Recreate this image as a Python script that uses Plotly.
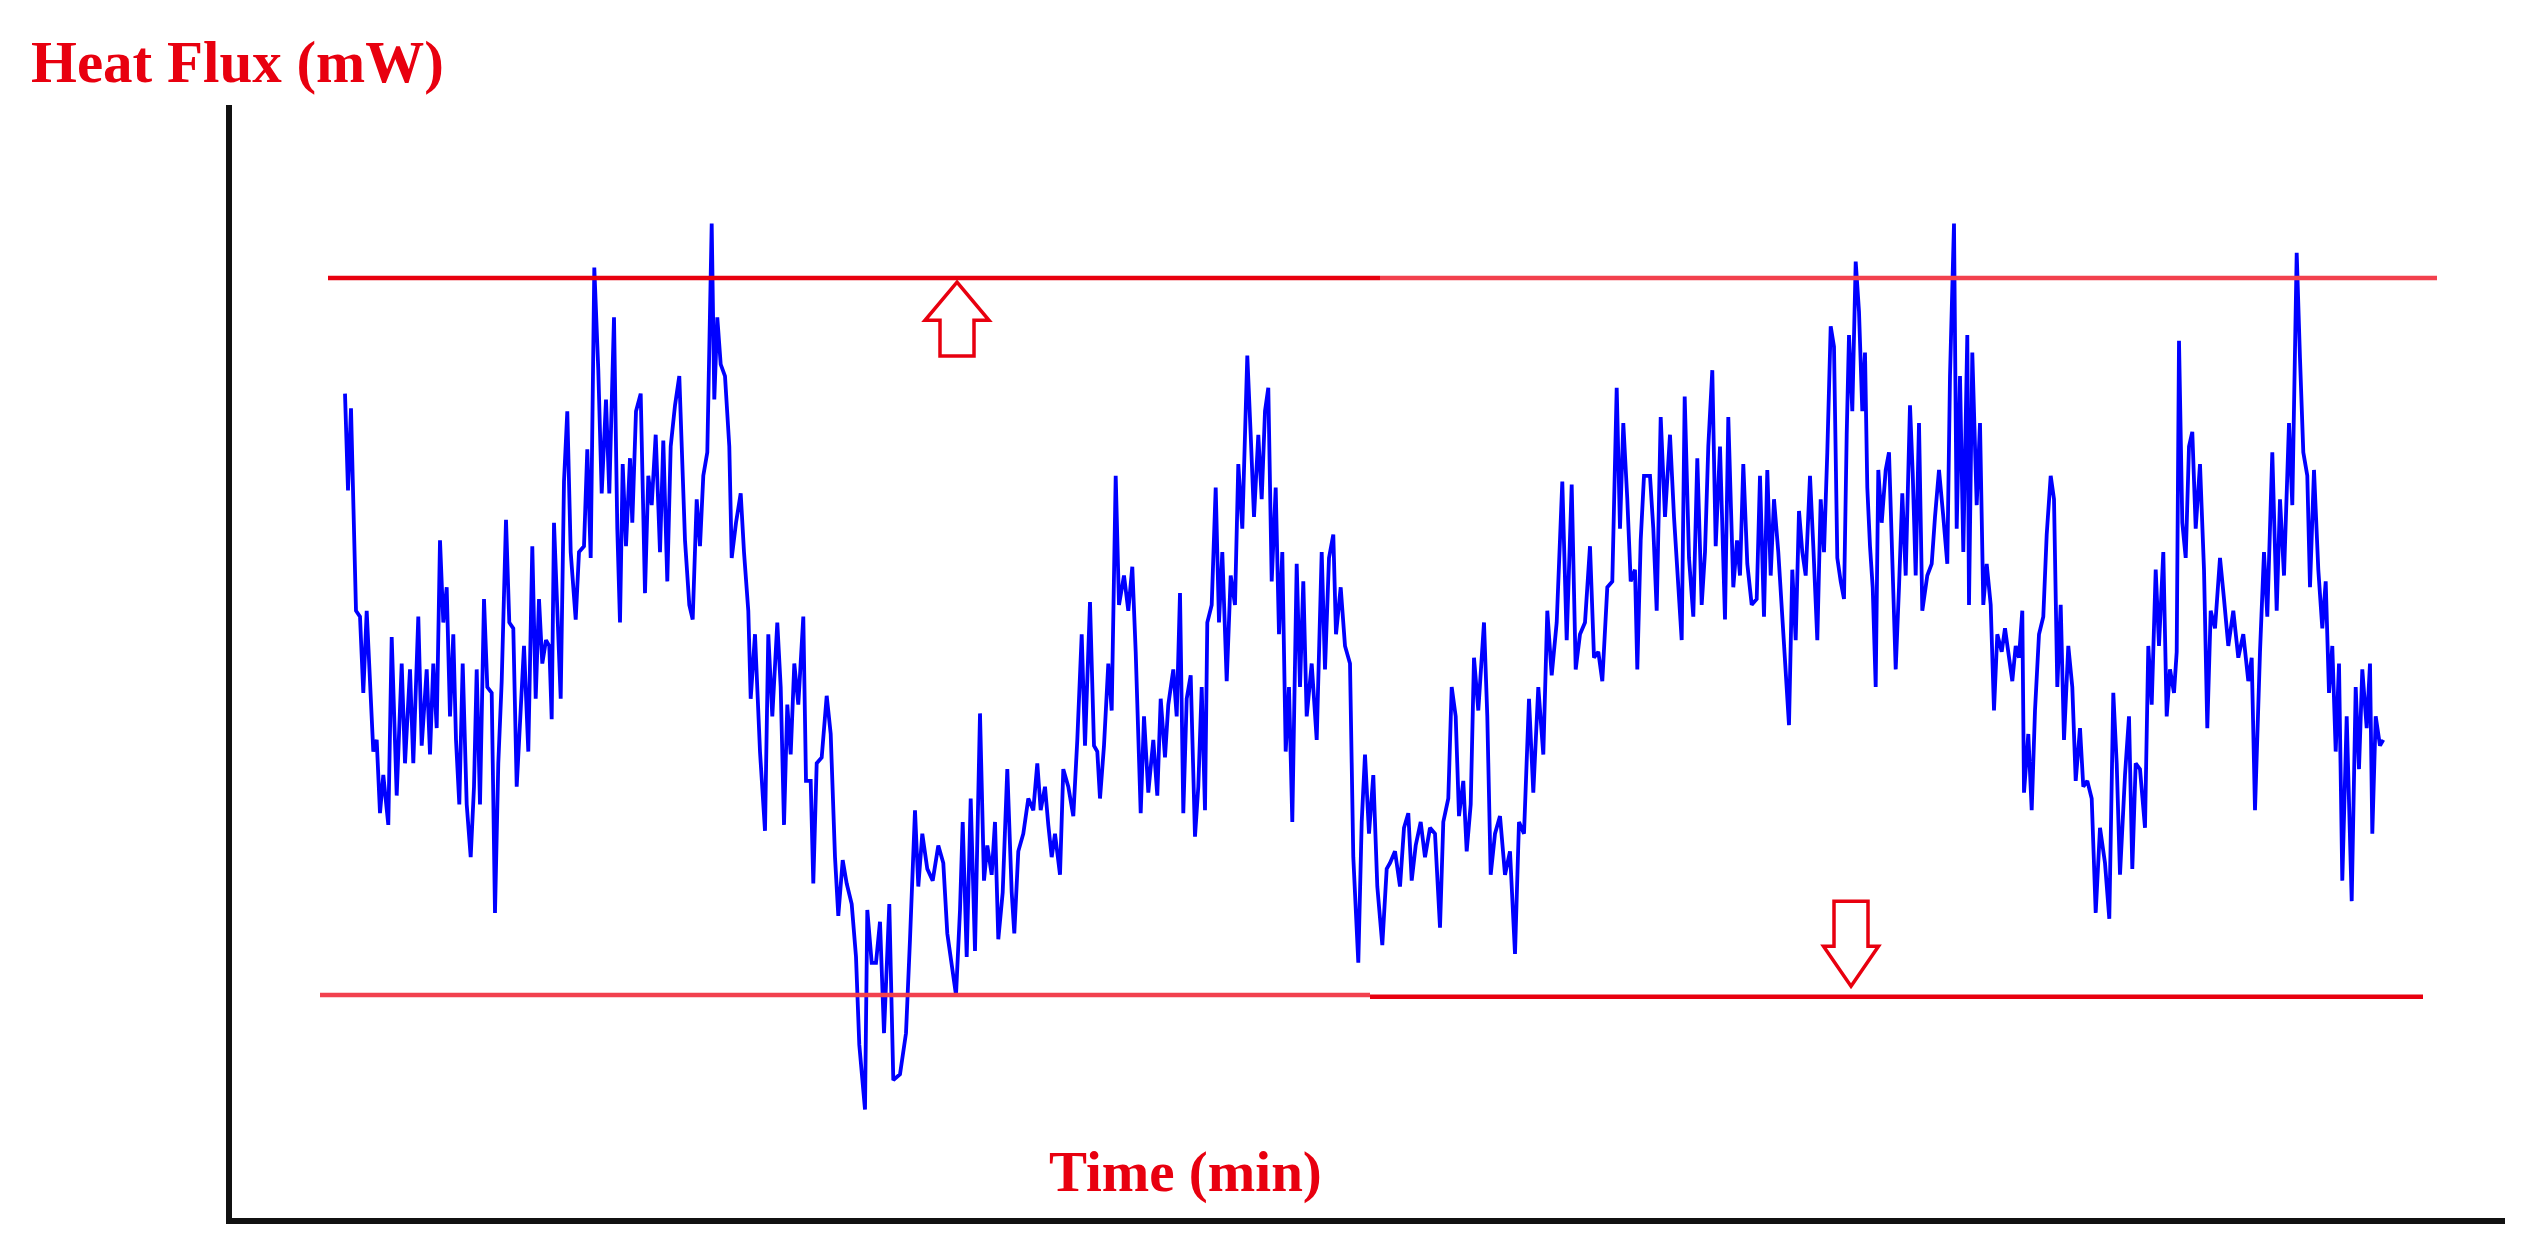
import plotly.graph_objects as go

# heat flux trace (time in min, flux in mW, arbitrary zero)
time_min = [
    11.3, 11.6, 11.9, 12.13, 12.4, 12.8, 13.13, 13.47, 13.8, 14.13, 14.47, 14.8,
    15.13, 15.63, 15.97, 16.47, 16.97, 17.3, 17.8, 18.13, 18.63, 18.97, 19.47, 19.8,
    20.13, 20.47, 20.8, 21.13, 21.47, 21.8, 22.13, 22.4, 22.73, 23.07, 23.47, 23.87,
    24.2, 24.47, 24.8, 25.2, 25.53, 25.97, 26.3, 26.63, 26.97, 27.4, 27.73, 28.13,
    28.47, 28.8, 29.2, 29.63, 30.03, 30.37, 30.7, 31.03, 31.4, 31.73, 31.97, 32.2,
    32.63, 32.87, 33.2, 33.53, 33.87, 34.37, 34.7, 35.2, 35.53, 35.87, 36.23, 36.63,
    36.97, 37.4, 37.73, 38.2, 38.53, 38.8, 39.07, 39.4, 39.8, 40.03, 40.4, 40.87,
    41.3, 41.63, 41.97, 42.37, 42.8, 43.13, 43.53, 43.87, 44.3, 44.73,
    45.3, 45.73, 46.07, 46.47, 46.8, 47.13, 47.53, 47.97, 48.23, 48.53, 48.87, 49.3,
    49.73, 49.97, 50.4, 50.87, 51.2, 51.63, 51.87, 52.3, 52.8, 53.3, 53.63, 54.03,
    54.53, 54.87, 55.2, 55.53, 55.87, 56.23, 56.63, 57.13, 57.4, 57.87, 58.13, 58.47,
    58.97, 59.47, 59.87, 60.3, 60.63, 61.07, 61.47, 61.97, 62.4, 62.73, 63.3, 63.53,
    63.97, 64.4, 64.8, 65.2, 65.73, 66.13, 66.8, 67.4, 67.8, 68.3, 68.63, 69.03,
    69.53, 70.07, 70.63, 71.13, 71.53, 71.97, 72.4, 72.8, 73.07, 73.47, 73.87, 74.3,
    74.8, 75.2, 75.53, 75.97, 76.3, 76.63, 77.07, 77.53, 77.97, 78.23, 78.63, 79.13,
    79.63,
    80.13, 80.53, 80.87, 81.3, 81.63, 81.97, 82.3, 82.8, 83.13, 83.63, 84.13, 84.53,
    84.97, 85.3, 85.8, 86.2, 86.53, 86.8, 87.2, 87.63, 87.97, 88.37, 88.7, 89.2,
    89.63, 90.03, 90.37, 90.87, 91.2, 91.63, 92.13, 92.53, 92.87, 93.3, 93.63, 94.13,
    94.47, 94.8, 95.13, 95.47, 95.87, 96.3, 96.63, 96.97, 97.3, 97.53, 97.97, 98.37,
    98.7, 99.03, 99.47, 99.87, 100.3, 100.63, 101.03, 101.53, 101.87, 102.2, 102.63, 102.97,
    103.3, 103.63, 103.97, 104.37, 104.7, 105.03, 105.37, 105.7, 106.03, 106.47, 106.8, 107.13,
    107.47, 107.97, 108.47, 108.97, 109.3, 109.7, 110.13, 110.4, 110.87, 111.3, 111.8, 112.13,
    112.63, 112.97, 113.3, 113.7, 114.13, 114.53, 115.03, 115.47,
    115.8, 116.3, 116.8, 117.2, 117.63, 117.97, 118.37, 118.87, 119.3, 119.8, 120.3, 120.8,
    121.13, 121.63, 121.97, 122.37, 122.7, 123.13, 123.47, 123.87, 124.2, 124.63, 125.2, 125.53,
    125.87, 126.3, 126.8, 127.3, 127.8, 128.3, 128.7, 129.2, 129.7, 130.13, 130.63, 131.13,
    131.53, 131.97, 132.47, 133.03, 133.47, 133.97, 134.37, 134.8, 135.3, 135.8, 136.2, 136.63,
    137.03, 137.53, 138.03, 138.47, 138.8, 139.13, 139.53, 139.87, 140.3, 140.53, 140.87, 141.2,
    141.8, 142.13, 142.47, 142.87, 143.3, 143.8, 144.2, 144.63, 144.97, 145.27, 145.7, 146.13,
    146.53, 146.97, 147.3, 147.63, 148.03, 148.37, 148.8, 149.3, 149.63, 150.13,
    150.5, 150.8, 151.13, 151.53, 151.97, 152.47, 152.8, 153.2, 153.53, 153.87, 154.2, 154.63,
    154.97, 155.3, 155.7, 156.03, 156.37, 156.7, 157.03, 157.37, 157.8, 158.13, 158.53, 158.87,
    159.2, 159.53, 159.87, 160.2, 160.53, 160.87, 161.2, 161.47, 161.7, 162.03, 162.37, 162.7,
    163.03, 163.3, 163.53, 163.8, 164.07, 164.37, 164.63, 164.97, 165.37, 165.7, 166.03, 166.37,
    166.7, 167.03, 167.37, 167.8, 168.07, 168.37, 168.7, 169.03, 169.53, 169.97, 170.3, 170.7,
    171.13, 171.53, 171.8, 172.2, 172.47, 172.8, 173.13, 173.53, 173.7, 174.03, 174.47, 174.8,
    175.13, 175.47, 175.87, 176.2, 176.53, 176.97, 177.3, 177.7, 178.03, 178.37, 178.7, 179.03,
    179.2, 179.63, 179.97, 180.3, 180.7, 181.13, 181.47, 181.87, 182.2, 182.53, 182.87, 183.2,
    183.63, 184.03, 184.37, 184.8,
    185.13, 185.53, 185.97, 186.37, 186.8, 187.3, 187.73, 188.13, 188.47, 188.8, 189.3, 189.7,
    190.03, 190.37, 190.8, 191.3, 191.63, 191.97, 192.37, 192.7, 193.13, 193.47, 193.8, 194.2,
    194.47, 194.7, 195.03, 195.37, 195.7, 196.03, 196.37, 196.8, 197.2, 197.53, 197.87, 198.3,
    198.8, 199.2, 199.63, 200.13, 200.63, 201.13, 201.63, 201.97, 202.3, 202.8, 203.2, 203.53,
    204.03, 204.47, 204.8, 205.2, 205.7, 206.03, 206.47, 206.8, 207.13, 207.53, 207.8, 208.2,
    208.63, 209.03, 209.37, 209.7, 210.03, 210.37, 210.7, 211.03, 211.47, 211.97, 212.37, 212.7,
    213.03, 213.47, 213.8, 214.03, 214.37, 214.8, 215.13,
]
heat_flux = [
    140.5, 124, 138, 121.5, 103.5, 102.5, 89.5, 103.5, 90.5, 79.5, 81.5, 69,
    75.5, 67, 99, 72, 94.5, 77.5, 93.5, 77.5, 102.5, 80.5, 93.5, 79,
    94.5, 83.5, 115.5, 101.5, 107.5, 85.5, 99.5, 81.5, 70.5, 94.5, 70.5, 61.5,
    73.5, 93.5, 70.5, 105.5, 90.5, 89.5, 52, 77.5, 91.5, 119, 101.5, 100.5,
    73.5, 83.5, 97.5, 79.5, 114.5, 88.5, 105.5, 94.5, 98.5, 97.5, 85, 118.5,
    99.5, 88.5, 125.5, 137.5, 113.5, 102, 113.5, 114.5, 131, 112.5, 162, 144.5,
    123.5, 139.5, 123.5, 153.5, 117.5, 101.5, 128.5, 114.5, 129.5, 118.5, 137.5, 140.5,
    106.5, 126.5, 121.5, 133.5, 113.5, 132.5, 108.5, 131.5, 138.5, 143.5,
    115.5, 104.5, 102, 122.5, 114.5, 126.5, 130.5, 169.5, 139.5, 153.5, 145.5, 143.5,
    131.5, 112.5, 118.5, 123.5, 113.5, 103.5, 88.5, 99.5, 79.5, 66, 99.5, 85.5,
    101.5, 90.5, 67, 87.5, 79, 94.5, 87.5, 102.5, 74.5, 74.5, 57, 77.5,
    78.5, 89, 82.5, 61.5, 51.5, 61, 57, 53.5, 44.5, 29.5, 18.5, 52.5,
    43.5, 43.5, 50.5, 31.5, 53.5, 23.5, 24.5, 31.5, 47.5, 69.5, 56.5, 65.5,
    59.5, 57.5, 63.5, 60.5, 48.5, 43.5, 38, 52.5, 67.5, 44.5, 71.5, 45.5,
    86, 57.5, 63.5, 58.5, 67.5, 47.5, 55.5, 76.5, 55.5, 48.5, 62.5, 65.5,
    71.5,
    69.5, 77.5, 69.5, 73.5, 67, 61.5, 65.5, 58.5, 76.5, 73.5, 68.5, 81.5,
    99.5, 80.5, 105, 80.5, 79.5, 71.5, 80.5, 94.5, 86.5, 126.5, 104.5, 109.5,
    103.5, 111, 96.5, 69, 85.5, 72.5, 81.5, 72, 88.5, 78.5, 87.5, 93.5,
    85.5, 106.5, 69, 88.5, 92.5, 65, 73.5, 90.5, 69.5, 101.5, 104.5, 124.5,
    101.5, 113.5, 91.5, 109.5, 104.5, 128.5, 117.5, 147, 133.5, 119.5, 133.5, 122.5,
    137.5, 141.5, 108.5, 124.5, 99.5, 113.5, 79.5, 90.5, 67.5, 111.5, 90.5, 108.5,
    85.5, 94.5, 81.5, 113.5, 93.5, 112.5, 116.5, 99.5, 107.5, 97.5, 94.5, 61.5,
    43.5, 67.5, 79, 65.5, 75.5, 56.5, 46.5, 59.5,
    60.5, 62.5, 56.5, 66.5, 69, 57.5, 63.5, 67.5, 61.5, 66.5, 65.5, 49.5,
    67.5, 71.5, 90.5, 85.5, 68.5, 74.5, 62.5, 70.5, 95.5, 86.5, 101.5, 85.5,
    58.5, 65.5, 68.5, 58.5, 62.5, 45, 67.5, 65.5, 88.5, 72.5, 90.5, 79,
    103.5, 92.5, 101.5, 125.5, 98.5, 125, 93.5, 99.5, 101.5, 114.5, 95.5, 96.5,
    91.5, 107.5, 108.5, 141.5, 117.5, 135.5, 122.5, 108.5, 110.5, 93.5, 115.5, 126.5,
    126.5, 117.5, 103.5, 136.5, 119.5, 133.5, 119.5, 107.5, 98.5, 140, 112.5, 102.5,
    129.5, 104.5, 113.5, 131.5, 144.5, 114.5, 131.5, 102, 136.5, 107.5,
    115.5, 109.5, 128.5, 111.5, 104.5, 105.5, 126.5, 102.5, 127.5, 109.5, 122.5, 113.5,
    104.5, 96.5, 84, 110.5, 98.5, 120.5, 113.5, 109.5, 126.5, 114.5, 98.5, 122.5,
    113.5, 130.5, 152, 148.5, 112.5, 108.5, 105.5, 133.5, 150.5, 137.5, 163, 154.5,
    137.5, 147.5, 124.5, 114.5, 107.5, 90.5, 127.5, 118.5, 127.5, 130.5, 109.5, 93.5,
    107.5, 123.5, 109.5, 138.5, 127, 109.5, 135.5, 103.5, 109.5, 111.5, 119.5, 127.5,
    119.5, 111.5, 143.5, 169.5, 117.5, 143.5, 113.5, 150.5, 104.5, 147.5, 121.5, 135.5,
    104.5, 111.5, 104.5, 86.5, 99.5, 96.5, 100.5, 95.5, 91.5, 97.5, 95.5, 103.5,
    72.5, 82.5, 69.5, 86.5, 99.5, 102.5, 116.5, 126.5, 122.5, 90.5, 104.5, 81.5,
    97.5, 90.5, 74.5, 83.5,
    73.5, 74.5, 71.5, 52, 66.5, 60.5, 51, 89.5, 77.5, 58.5, 75.5, 85.5,
    59.5, 77.5, 76.5, 66.5, 97.5, 87.5, 110.5, 97.5, 113.5, 85.5, 93.5, 89.5,
    96.5, 149.5, 118.5, 112.5, 131.5, 134, 117.5, 128.5, 110.5, 83.5, 103.5, 100.5,
    112.5, 105.5, 97.5, 103.5, 95.5, 99.5, 91.5, 95.5, 69.5, 96.5, 113.5, 102.5,
    130.5, 103.5, 122.5, 109.5, 135.5, 121.5, 164.5, 146.5, 130.5, 126.5, 107.5, 127.5,
    110.5, 100.5, 108.5, 89.5, 97.5, 79.5, 94.5, 57.5, 85.5, 54, 90.5, 76.5,
    93.5, 83.5, 94.5, 65.5, 85.5, 80.5, 81.5,
]

# alarm limits (mW)
upper_limit = 160.2
lower_limit = 38.0

RED = "#e8000f"
RED_LIGHT = "#f2414e"


def block_arrow(xc, tip, half_head, half_shaft, head_len, total_len, up=True):
    d = 1 if up else -1
    base = tip - d * head_len
    end = tip - d * total_len
    pts = [(xc, tip), (xc + half_head, base), (xc + half_shaft, base),
           (xc + half_shaft, end), (xc - half_shaft, end), (xc - half_shaft, base),
           (xc - half_head, base)]
    return "M " + " L ".join(f"{x},{y}" for x, y in pts) + " Z"


fig = go.Figure()
fig.add_trace(go.Scatter(x=time_min, y=heat_flux, mode="lines",
                         line=dict(color="#0000ff", width=3.8),
                         hoverinfo="skip", showlegend=False))

shapes = [
    # limit lines, drawn in two pieces each like the original
    dict(type="line", x0=9.6, x1=114.8, y0=upper_limit, y1=upper_limit,
         line=dict(color=RED, width=4.5), layer="above"),
    dict(type="line", x0=114.8, x1=220.5, y0=upper_limit, y1=upper_limit,
         line=dict(color=RED_LIGHT, width=4.5), layer="above"),
    dict(type="line", x0=8.8, x1=113.8, y0=lower_limit, y1=lower_limit,
         line=dict(color=RED_LIGHT, width=4.5), layer="above"),
    dict(type="line", x0=113.8, x1=219.1, y0=lower_limit - 0.3, y1=lower_limit - 0.3,
         line=dict(color=RED, width=4.5), layer="above"),
    # hollow arrows
    dict(type="path", path=block_arrow(72.5, upper_limit - 0.7, 3.2, 1.7, 6.5, 12.6, up=True),
         line=dict(color=RED, width=3.5), fillcolor="white", layer="above"),
    dict(type="path", path=block_arrow(161.9, lower_limit + 1.5, 2.75, 1.7, 6.8, 14.5, up=False),
         line=dict(color=RED, width=3.5), fillcolor="white", layer="above"),
]

# the page body adds an 8 px margin, so the figure is trimmed by that amount
fig.update_layout(
    width=2518, height=1242,
    margin=dict(l=224, r=21, t=97, b=32),
    paper_bgcolor="white", plot_bgcolor="white",
    shapes=shapes,
    xaxis=dict(range=[0, 227.3], showgrid=False, zeroline=False, showticklabels=False,
               ticks="", showline=True, linecolor="#111111", linewidth=6),
    yaxis=dict(range=[0, 189.7], showgrid=False, zeroline=False, showticklabels=False,
               ticks="", showline=True, linecolor="#111111", linewidth=6),
    annotations=[
        dict(text="<b>Heat Flux (mW)</b>", xref="paper", yref="paper",
             x=-0.0893, y=1.0386, xanchor="left", yanchor="middle", showarrow=False,
             font=dict(family="Liberation Serif", size=59, color=RED)),
        dict(text="<b>Time (min)</b>", xref="paper", yref="paper",
             x=0.4193, y=0.0413, xanchor="center", yanchor="middle", showarrow=False,
             font=dict(family="Liberation Serif", size=57, color=RED)),
    ],
)

fig.write_html("out.html")
